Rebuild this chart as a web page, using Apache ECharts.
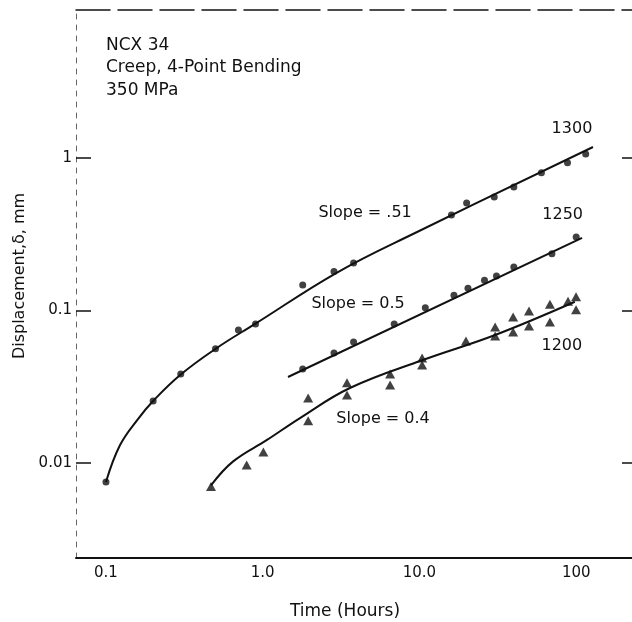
<!DOCTYPE html>
<html>
<head>
<meta charset="utf-8">
<script src="https://cdn.jsdelivr.net/npm/echarts@6/dist/echarts.min.js"></script>
<style>
  html, body { margin: 0; padding: 0; background: #fff; }
  #chart { width: 632px; height: 622px; }
</style>
</head>
<body>
<div id="chart"></div>
<script>
// 刻度
var xTicks = [0.1, 1, 10, 100];
var xTickLabels = ['0.1', '1.0', '10.0', '100'];
var yTicks = [0.01, 0.1, 1];
var yTickLabels = ['0.01', '0.1', '1'];

// 1300 (circles)
var t1300 = [0.1, 0.2, 0.3, 0.5, 0.7, 0.9, 1.8, 2.85, 3.8, 16, 20, 30, 40, 60, 88, 115];
var d1300 = [0.0075, 0.0255, 0.0383, 0.056, 0.0745, 0.0815, 0.147, 0.18, 0.205, 0.423, 0.507, 0.555, 0.645, 0.80, 0.93, 1.06];
var fitT1300 = [0.1, 0.123, 0.16, 0.2, 0.3, 0.5, 0.9, 3.0, 9.66, 128];
var fitD1300 = [0.0075, 0.0131, 0.0194, 0.0255, 0.038, 0.056, 0.082, 0.178, 0.327, 1.18];

// 1250 (circles)
var t1250 = [1.8, 2.85, 3.8, 6.9, 10.9, 16.6, 20.4, 26, 31, 40, 70, 100];
var d1250 = [0.0413, 0.0526, 0.0621, 0.0815, 0.104, 0.126, 0.14, 0.158, 0.168, 0.193, 0.235, 0.303];
var fitT1250 = [1.45, 109];
var fitD1250 = [0.0366, 0.299];

// 1200 (triangles)
var t1200 = [0.468, 0.79, 1.01, 1.95, 1.95, 3.45, 3.45, 6.5, 6.5, 10.4, 10.4, 19.8, 30.4, 30.4, 39.6, 39.6, 50, 50, 68, 68, 88.7, 99.8, 99.8];
var d1200 = [0.007, 0.0097, 0.0118, 0.0267, 0.0189, 0.0335, 0.0279, 0.0383, 0.0325, 0.0488, 0.0439, 0.063, 0.078, 0.068, 0.0906, 0.0723, 0.099, 0.079, 0.110, 0.084, 0.115, 0.123, 0.101];
var fitT1200 = [0.468, 0.645, 1.065, 1.73, 3.6, 10.5, 30.4, 98];
var fitD1200 = [0.00713, 0.0102, 0.01415, 0.0197, 0.031, 0.0473, 0.069, 0.114];

// 注释文字 (数据坐标)
var notes = [
    { text: '1300', at: [94, 1.55] },
    { text: '1250', at: [82, 0.423] },
    { text: '1200', at: [81, 0.0585] },
    { text: 'Slope = .51', at: [4.5, 0.436] },
    { text: 'Slope = 0.5', at: [4.06, 0.110] },
    { text: 'Slope = 0.4', at: [5.86, 0.0194] }
];

function pairs(xs, ys) {
    return xs.map(function (x, i) { return [x, ys[i]]; });
}
function tickFmt(ticks, labels) {
    return function (v) {
        for (var i = 0; i < ticks.length; i++) {
            if (Math.abs(Math.log10(v) - Math.log10(ticks[i])) < 1e-6) return labels[i];
        }
        return '';
    };
}

var FONT = 'DejaVu Sans';
var INK = '#111';
var xMin = 0.0644, xMax = 227, yMin = 0.00238, yMax = 9.34;

var myChart = echarts.init(document.getElementById('chart'));

var option = {
    backgroundColor: '#fff',
    animation: false,
    grid: { left: 76, right: 0, top: 10, bottom: 64, outerBoundsMode: 'none' },
    xAxis: [{
        type: 'log', min: xMin, max: xMax,
        name: 'Time (Hours)', nameLocation: 'middle', nameGap: 45,
        nameTextStyle: { fontFamily: FONT, fontSize: 17, color: INK, padding: [0, 18, 0, 0] },
        axisLine: { lineStyle: { color: INK, width: 2 } },
        axisTick: { show: false },
        axisLabel: { customValues: xTicks, formatter: tickFmt(xTicks, xTickLabels),
            fontFamily: FONT, fontSize: 15, color: INK, margin: 8 },
        splitLine: { show: false }
    }, {
        type: 'log', min: xMin, max: xMax, position: 'top',
        axisLine: { lineStyle: { color: INK, width: 1.5, type: [34, 8] } },
        axisTick: { show: false }, axisLabel: { show: false }, splitLine: { show: false }
    }],
    yAxis: [{
        type: 'log', min: yMin, max: yMax,
        name: 'Displacement,δ, mm', nameLocation: 'middle', nameGap: 38,
        nameTextStyle: { fontFamily: FONT, fontSize: 16, color: INK, padding: [0, 0, 0, 16] },
        axisLine: { lineStyle: { color: '#666', width: 1, type: [5, 6] } },
        axisTick: { customValues: yTicks, inside: true, length: 15, lineStyle: { color: INK, width: 1.5 } },
        axisLabel: { customValues: yTicks, formatter: tickFmt(yTicks, yTickLabels),
            fontFamily: FONT, fontSize: 15, color: INK, margin: 4 },
        splitLine: { show: false }
    }, {
        type: 'log', min: yMin, max: yMax, position: 'right',
        axisLine: { show: false },
        axisTick: { customValues: yTicks, inside: true, length: 10, lineStyle: { color: INK, width: 1.5 } },
        axisLabel: { show: false }, splitLine: { show: false }
    }],
    series: [
        { type: 'line', data: pairs(fitT1300, fitD1300), smooth: 0.4,
          showSymbol: false, lineStyle: { color: INK, width: 2 } },
        { type: 'line', data: pairs(fitT1250, fitD1250), showSymbol: false,
          lineStyle: { color: INK, width: 2 } },
        { type: 'line', data: pairs(fitT1200, fitD1200), smooth: 0.4,
          showSymbol: false, lineStyle: { color: INK, width: 2 } },
        { type: 'scatter', data: pairs(t1300, d1300), symbol: 'circle', symbolSize: 7,
          itemStyle: { color: INK } },
        { type: 'scatter', data: pairs(t1250, d1250), symbol: 'circle', symbolSize: 7,
          itemStyle: { color: INK } },
        { type: 'scatter', data: pairs(t1200, d1200), symbol: 'triangle', symbolSize: [10, 9],
          itemStyle: { color: INK } }
    ]
};

myChart.setOption(option);

var graphics = [{
    type: 'text', left: 106, top: 34,
    style: { text: 'NCX 34\nCreep, 4-Point Bending\n350 MPa', fontFamily: FONT, fontSize: 17,
             lineHeight: 22.5, fill: INK }
}];
notes.forEach(function (n) {
    var p = myChart.convertToPixel({ gridIndex: 0 }, n.at);
    graphics.push({
        type: 'text', x: p[0], y: p[1],
        style: { text: n.text, fontFamily: FONT, fontSize: 16, fill: INK,
                 align: 'center', verticalAlign: 'middle' }
    });
});
myChart.setOption({ graphic: graphics });
</script>
</body>
</html>
